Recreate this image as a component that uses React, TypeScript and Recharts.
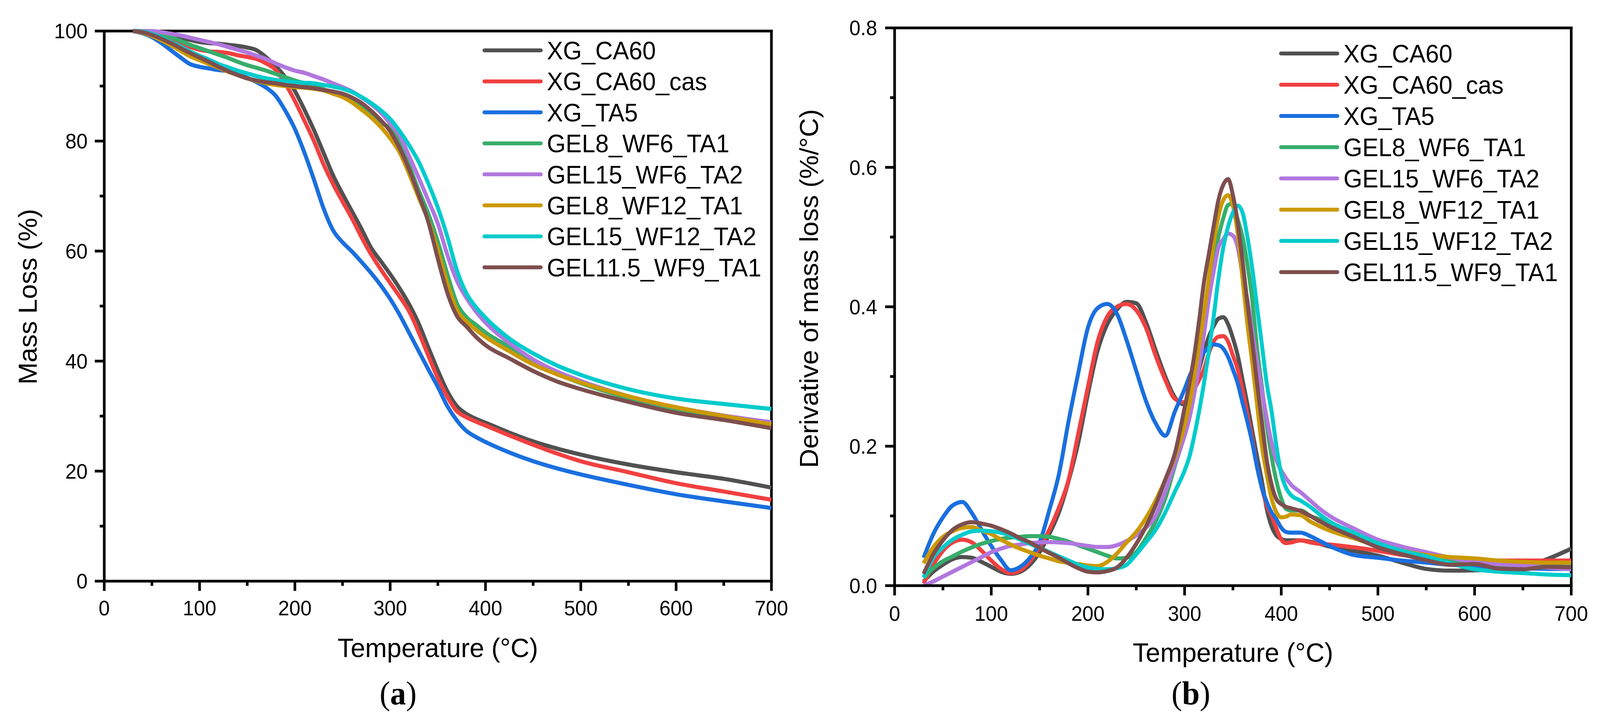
import React from 'react'
import { LineChart, Line, XAxis, YAxis, Legend, ReferenceLine } from 'recharts'

const seriesNames = [
  'XG_CA60',
  'XG_CA60_cas',
  'XG_TA5',
  'GEL8_WF6_TA1',
  'GEL15_WF6_TA2',
  'GEL8_WF12_TA1',
  'GEL15_WF12_TA2',
  'GEL11.5_WF9_TA1',
]
const seriesColors = ['#515151', '#F14040', '#1A6FDF', '#37AD6B', '#B177DE', '#CC9900', '#00CBCC', '#7D4E4E']

// (a) mass loss, %
const tgaTemps = [
  30, 40, 50, 60, 70, 80, 90, 100, 110, 120, 130, 140, 150, 160, 170, 180, 190, 200, 210, 220, 230, 240, 250,
  260, 270, 280, 290, 300, 310, 320, 330, 340, 350, 360, 370, 380, 390, 400, 425, 450, 475, 500, 550, 600, 650, 700,
]
const tgaXgCa60 = [
  100, 99.9, 99.7, 99.4, 99.1, 98.8, 98.4, 98.0, 97.8, 97.7, 97.5, 97.3, 97.0, 96.5, 95.2, 93.6, 91.6, 89.1, 85.7,
  82.0, 77.9, 73.8, 70.4, 67.2, 64.0, 60.6, 58.2, 55.8, 53.2, 50.3, 46.8, 42.5, 38.3, 34.5, 31.8, 30.4, 29.5, 28.8,
  27.0, 25.4, 24.1, 23.0, 21.2, 19.8, 18.6, 17.0,
]
const tgaXgCa60Cas = [
  100, 99.8, 99.4, 99.0, 98.4, 97.8, 97.1, 96.6, 96.3, 96.2, 96.0, 95.6, 95.3, 94.9, 94.1, 92.9, 90.4, 87.3, 83.7,
  80.0, 75.8, 72.2, 69.0, 65.9, 62.5, 59.4, 56.7, 54.2, 51.7, 49.0, 45.2, 41.0, 36.9, 33.5, 30.9, 29.8, 29.0, 28.3,
  26.5, 24.8, 23.2, 21.8, 19.8, 17.8, 16.3, 14.8,
]
const tgaXgTa5 = [
  100, 99.6, 98.9, 97.8, 96.5, 95.2, 94.0, 93.5, 93.2, 92.9, 92.7, 92.2, 91.5, 90.7, 89.7, 88.2, 85.5, 82.2, 77.9,
  73.0, 67.8, 63.8, 61.6, 59.9, 58.0, 56.0, 53.8, 51.3, 48.4, 45.1, 41.8, 38.5, 35.3, 31.8, 29.2, 27.3, 26.2, 25.3,
  23.4, 21.8, 20.5, 19.4, 17.5, 15.8, 14.5, 13.3,
]
const tgaGel8Wf6 = [
  100, 99.95, 99.8, 99.5, 98.9, 98.2, 97.5, 96.9, 96.3, 95.7, 95.1, 94.4, 93.8, 93.3, 92.8, 92.2, 91.6, 91.0, 90.5,
  89.9, 89.4, 88.8, 88.2, 87.3, 86.2, 84.9, 83.3, 82.4, 79.9, 75.5, 71.0, 66.8, 61.7, 55.8, 50.5, 48.0, 46.6, 45.2,
  42.6, 39.8, 37.7, 36.0, 33.3, 31.3, 29.8, 28.5,
]
const tgaGel15Wf6 = [
  100, 100, 100, 99.8, 99.5, 99.2, 98.8, 98.4, 98.0, 97.6, 97.1, 96.6, 96.1, 95.5, 94.9, 94.1, 93.4, 92.8, 92.4,
  91.8, 91.2, 90.5, 89.8, 89.0, 87.9, 86.7, 85.2, 83.2, 81.0, 77.2, 73.3, 69.2, 65.0, 59.3, 54.6, 51.5, 49.0, 47.0,
  43.3, 40.3, 38.1, 36.4, 33.6, 31.6, 30.1, 28.9,
]
const tgaGel8Wf12 = [
  100, 99.7, 99.1, 98.3, 97.4, 96.4, 95.4, 94.7, 94.0, 93.3, 92.6, 92.0, 91.4, 90.9, 90.5, 90.2, 90.0, 89.8, 89.7,
  89.5, 89.2, 88.6, 88.0, 87.0, 85.7, 84.3, 82.6, 80.5, 77.9, 74.0, 69.7, 65.5, 60.1, 54.1, 49.3, 47.2, 45.7, 44.4,
  41.8, 39.4, 37.6, 36.1, 33.6, 31.6, 30.0, 28.5,
]
const tgaGel15Wf12 = [
  100, 99.9, 99.5, 98.8, 98.0, 97.2, 96.3, 95.5, 94.8, 94.0, 93.4, 92.8, 92.3, 91.8, 91.4, 91.1, 90.9, 90.7, 90.6,
  90.5, 90.2, 89.9, 89.5, 88.9, 88.0, 86.9, 85.6, 84.0, 81.8, 79.2, 76.2, 72.3, 67.9, 62.6, 56.5, 52.3, 49.8, 47.9,
  44.1, 41.4, 39.2, 37.5, 34.9, 33.2, 32.2, 31.3,
]
const tgaGel115Wf9 = [
  100, 99.8, 99.3, 98.6, 97.8, 96.9, 96.0, 95.2, 94.4, 93.5, 92.7, 92.0, 91.4, 91.0, 90.7, 90.5, 90.2, 90.0, 89.8,
  89.6, 89.3, 89.0, 88.6, 87.9, 86.9, 85.5, 83.8, 81.8, 78.7, 74.8, 70.2, 65.3, 58.6, 52.4, 48.2, 46.3, 44.4, 42.9,
  40.5, 38.2, 36.3, 34.9, 32.6, 30.6, 29.3, 27.8,
]

// (b) derivative of mass loss, %/°C
const dtgTemps = [
  30, 40, 50, 60, 70, 80, 90, 100, 110, 120, 130, 140, 150, 160, 170, 180, 190, 200, 210, 220, 230, 240, 250, 260,
  270, 280, 290, 300, 305, 310, 315, 320, 325, 330, 335, 340, 345, 350, 355, 360, 365, 370, 375, 380, 385, 390, 395,
  400, 405, 410, 420, 430, 440, 450, 475, 500, 525, 550, 575, 600, 625, 650, 675, 700,
]
const dtgXgCa60 = [
  0.006, 0.02, 0.03, 0.038, 0.041, 0.04, 0.034, 0.027, 0.02, 0.017, 0.02, 0.03, 0.048, 0.074, 0.105, 0.15, 0.205,
  0.275, 0.337, 0.375, 0.396, 0.407, 0.405, 0.378, 0.338, 0.3, 0.27, 0.26,
  0.268, 0.285, 0.31, 0.335, 0.357, 0.372, 0.383, 0.385, 0.375, 0.355, 0.33, 0.295, 0.26, 0.222, 0.185, 0.15, 0.11,
  0.085, 0.072, 0.067,
  0.065, 0.065, 0.065, 0.063, 0.06, 0.056, 0.05, 0.043, 0.033, 0.024, 0.0215, 0.022, 0.023, 0.027, 0.038, 0.053,
]
const dtgXgCa60Cas = [
  0.003, 0.03, 0.05, 0.062, 0.066, 0.062, 0.05, 0.036, 0.024, 0.018, 0.022, 0.035, 0.055, 0.08, 0.112, 0.152, 0.218,
  0.285, 0.35, 0.386, 0.4, 0.404, 0.395, 0.37, 0.33, 0.295, 0.268, 0.263,
  0.27, 0.282, 0.295, 0.31, 0.333, 0.35, 0.357, 0.358, 0.35, 0.33, 0.31, 0.28, 0.245, 0.21, 0.17, 0.14, 0.115, 0.1,
  0.082, 0.066,
  0.061, 0.062, 0.065, 0.062, 0.06, 0.059, 0.055, 0.05, 0.044, 0.039, 0.037, 0.036, 0.036, 0.036, 0.036, 0.036,
]
const dtgXgTa5 = [
  0.04, 0.074, 0.098, 0.115, 0.12, 0.104, 0.08, 0.057, 0.037, 0.022, 0.027, 0.04, 0.062, 0.108, 0.16, 0.236, 0.305,
  0.37, 0.398, 0.404, 0.39, 0.352, 0.308, 0.265, 0.233, 0.215, 0.25, 0.282,
  0.3, 0.315, 0.325, 0.335, 0.342, 0.346, 0.345, 0.34, 0.328, 0.31, 0.29, 0.262, 0.235, 0.205, 0.17, 0.14, 0.12,
  0.105, 0.095, 0.083,
  0.077, 0.076, 0.076, 0.071, 0.064, 0.057, 0.044, 0.04, 0.036, 0.033, 0.03, 0.028, 0.026, 0.025, 0.024, 0.024,
]
const dtgGel8Wf6 = [
  0.011, 0.025, 0.035, 0.042, 0.049, 0.055, 0.06, 0.064, 0.067, 0.069, 0.07, 0.071, 0.071, 0.07, 0.067, 0.063, 0.058,
  0.053, 0.048, 0.043, 0.039, 0.04, 0.048, 0.068, 0.092, 0.125, 0.172, 0.22,
  0.26, 0.3, 0.34, 0.385, 0.425, 0.465, 0.5, 0.527, 0.546, 0.548, 0.525, 0.5, 0.46, 0.41, 0.34, 0.285, 0.23, 0.185,
  0.15, 0.125,
  0.11, 0.108, 0.108, 0.1, 0.095, 0.09, 0.073, 0.059, 0.048, 0.04, 0.035, 0.032, 0.03, 0.029, 0.028, 0.027,
]
const dtgGel15Wf6 = [
  0, 0.006, 0.013, 0.02, 0.027, 0.034, 0.041, 0.048, 0.053, 0.057, 0.059, 0.061, 0.062, 0.0625, 0.062, 0.061, 0.059,
  0.057, 0.0555, 0.0555, 0.058, 0.064, 0.072, 0.083, 0.1, 0.135, 0.175, 0.215,
  0.24, 0.275, 0.315, 0.36, 0.41, 0.45, 0.485, 0.497, 0.505, 0.502, 0.485, 0.445, 0.41, 0.365, 0.32, 0.28, 0.24,
  0.205, 0.18, 0.165,
  0.154, 0.145, 0.134, 0.122, 0.11, 0.1, 0.082, 0.066, 0.056, 0.048, 0.04, 0.034, 0.031, 0.029, 0.026, 0.0235,
]
const dtgGel8Wf12 = [
  0.032, 0.055, 0.07, 0.078, 0.083, 0.084, 0.079, 0.074, 0.066, 0.059, 0.053, 0.048, 0.043, 0.039, 0.035, 0.033,
  0.031, 0.029, 0.028, 0.034, 0.046, 0.062, 0.077, 0.097, 0.122, 0.152, 0.185, 0.23,
  0.26, 0.3, 0.345, 0.39, 0.44, 0.49, 0.53, 0.553, 0.56, 0.545, 0.505, 0.44, 0.375, 0.32, 0.26, 0.2, 0.16, 0.125,
  0.105, 0.098,
  0.099, 0.102, 0.101, 0.092, 0.085, 0.079, 0.068, 0.057, 0.05, 0.044, 0.041, 0.039, 0.036, 0.034, 0.033, 0.033,
]
const dtgGel15Wf12 = [
  0.012, 0.04, 0.055, 0.066, 0.073, 0.078, 0.079, 0.078, 0.076, 0.072, 0.066, 0.06, 0.054, 0.048, 0.042, 0.036, 0.03,
  0.026, 0.024, 0.0235, 0.025, 0.03, 0.045, 0.062, 0.08, 0.105, 0.135, 0.165,
  0.185, 0.215, 0.25, 0.29, 0.335, 0.385, 0.44, 0.485, 0.515, 0.535, 0.545, 0.535, 0.5, 0.455, 0.4, 0.345, 0.29,
  0.25, 0.2, 0.16,
  0.14, 0.13, 0.122, 0.113, 0.102, 0.092, 0.076, 0.061, 0.05, 0.042, 0.032, 0.0235, 0.02, 0.018, 0.016, 0.015,
]
const dtgGel115Wf9 = [
  0.017, 0.045, 0.065, 0.08, 0.088, 0.091, 0.089, 0.086, 0.081, 0.075, 0.068, 0.062, 0.054, 0.047, 0.04, 0.032,
  0.025, 0.02, 0.019, 0.021, 0.026, 0.04, 0.06, 0.085, 0.115, 0.152, 0.19, 0.255,
  0.29, 0.33, 0.38, 0.435, 0.475, 0.515, 0.553, 0.575, 0.583, 0.56, 0.52, 0.465, 0.405, 0.35, 0.29, 0.235, 0.18,
  0.145, 0.124, 0.117,
  0.113, 0.111, 0.107, 0.1, 0.092, 0.085, 0.07, 0.055, 0.045, 0.0365, 0.03, 0.031, 0.0245, 0.0235, 0.027, 0.0263,
]

const xTicks = [0, 50, 100, 150, 200, 250, 300, 350, 400, 450, 500, 550, 600, 650, 700]
const tgaTicks = [0, 10, 20, 30, 40, 50, 60, 70, 80, 90, 100]
const dtgTicks = [0, 0.1, 0.2, 0.3, 0.4, 0.5, 0.6, 0.7, 0.8]

const FONT = '"Liberation Sans", Arial, Helvetica, sans-serif'
const SERIF = '"Liberation Serif", "Times New Roman", serif'
const AXIS_W = 7
const PAGE_W = 4228
const PAGE_H = 1839

function buildRows(temps: number[], cols: number[][]) {
  return temps.map((t, i) => {
    const row: Record<string, number> = { t }
    cols.forEach((c, k) => {
      row['s' + k] = c[i]
    })
    return row
  })
}

const tgaRows = buildRows(tgaTemps, [
  tgaXgCa60, tgaXgCa60Cas, tgaXgTa5, tgaGel8Wf6, tgaGel15Wf6, tgaGel8Wf12, tgaGel15Wf12, tgaGel115Wf9,
])
const dtgRows = buildRows(dtgTemps, [
  dtgXgCa60, dtgXgCa60Cas, dtgXgTa5, dtgGel8Wf6, dtgGel15Wf6, dtgGel8Wf12, dtgGel15Wf12, dtgGel115Wf9,
])

function renderXTick(p: any, labelDy: number) {
  const { x, y, payload } = p
  const major = payload.value % 100 === 0
  return (
    <g>
      <line x1={x} x2={x} y1={y} y2={y + (major ? 25 : 12)} stroke="#000" strokeWidth={AXIS_W} />
      {major && (
        <text x={x} y={y + labelDy} textAnchor="middle" fontSize={53} fontFamily={FONT} fill="#000">
          {payload.value}
        </text>
      )}
    </g>
  )
}

function renderYTick(p: any, isMajor: (v: number) => boolean, fmt: (v: number) => string, labelDx: number) {
  const { x, y, payload } = p
  const major = isMajor(payload.value)
  return (
    <g>
      <line x1={x} x2={x - (major ? 25 : 12)} y1={y} y2={y} stroke="#000" strokeWidth={AXIS_W} />
      {major && (
        <text x={x - labelDx} y={y + 19} textAnchor="end" fontSize={53} fontFamily={FONT} fill="#000">
          {fmt(payload.value)}
        </text>
      )}
    </g>
  )
}

function legendContent(rowGap: number) {
  return () => (
    <svg width={840} height={720}>
      {seriesNames.map((name, i) => {
        const y = 50 + i * rowGap
        return (
          <g key={name}>
            <line x1={20} x2={169} y1={y} y2={y} stroke={seriesColors[i]} strokeWidth={10} strokeLinecap="round" />
            <text x={185} y={y + 23} fontSize={64} fontFamily={FONT} fill="#000">
              {name}
            </text>
          </g>
        )
      })}
    </svg>
  )
}

interface PanelProps {
  rows: Record<string, number>[]
  yMax: number
  yTicks: number[]
  isMajor: (v: number) => boolean
  fmt: (v: number) => string
  margin: { top: number; right: number; bottom: number; left: number }
  xLabelDy: number
  yLabelDx: number
  legendPos: { left: number; top: number }
  rowGap: number
}

function Panel(props: PanelProps) {
  const { rows, yMax, yTicks, isMajor, fmt, margin, xLabelDy, yLabelDx, legendPos, rowGap } = props
  return (
    <LineChart width={2114} height={1839} data={rows} margin={margin}>
      <XAxis
        type="number"
        dataKey="t"
        domain={[0, 700]}
        ticks={xTicks}
        interval={0}
        height={200}
        tickSize={0}
        tickMargin={0}
        tickLine={false}
        axisLine={{ stroke: '#000', strokeWidth: AXIS_W, strokeLinecap: 'square' }}
        tick={(p: any) => renderXTick(p, xLabelDy)}
      />
      <YAxis
        type="number"
        domain={[0, yMax]}
        ticks={yTicks}
        interval={0}
        width={200}
        tickSize={0}
        tickMargin={0}
        tickLine={false}
        axisLine={{ stroke: '#000', strokeWidth: AXIS_W, strokeLinecap: 'square' }}
        tick={(p: any) => renderYTick(p, isMajor, fmt, yLabelDx)}
      />
      <ReferenceLine y={yMax} stroke="#000" strokeWidth={AXIS_W} strokeLinecap="square" />
      <ReferenceLine x={700} stroke="#000" strokeWidth={AXIS_W} strokeLinecap="square" />
      {seriesNames.map((name, i) => (
        <Line
          key={name}
          type="monotone"
          dataKey={'s' + i}
          name={name}
          stroke={seriesColors[i]}
          strokeWidth={10.5}
          strokeLinejoin="round"
          dot={false}
          isAnimationActive={false}
        />
      ))}
      <Legend
        layout="horizontal"
        verticalAlign="middle"
        align="center"
        wrapperStyle={{ left: legendPos.left, top: legendPos.top, width: 840, height: 720 }}
        content={legendContent(rowGap)}
      />
    </LineChart>
  )
}

function viewportScaleX() {
  if (typeof window === 'undefined') return 1
  const w = Math.min(window.innerWidth || PAGE_W, document.documentElement.clientWidth || PAGE_W)
  return w > 0 && w < PAGE_W ? w / PAGE_W : 1
}

export default function App() {
  const sx = viewportScaleX()
  return (
    <div
      style={{
        position: 'absolute',
        left: 0,
        top: 0,
        width: Math.floor(PAGE_W * sx),
        height: PAGE_H,
        overflow: 'hidden',
        background: '#fff',
      }}
    >
      <div
        style={{
          position: 'absolute',
          left: 0,
          top: 0,
          width: PAGE_W,
          height: PAGE_H,
          transform: `scale(${sx}, 1)`,
          transformOrigin: '0 0',
        }}
      >
        <div style={{ position: 'absolute', left: 0, top: 0 }}>
          <Panel
            rows={tgaRows}
            yMax={100}
            yTicks={tgaTicks}
            isMajor={(v) => v % 20 === 0}
            fmt={(v) => String(v)}
            margin={{ top: 79.5, right: 75.5, bottom: 150.5, left: 75.5 }}
            xLabelDy={88}
            yLabelDx={44}
            legendPos={{ left: 1260, top: 79 }}
            rowGap={79.4}
          />
        </div>
        <div style={{ position: 'absolute', left: 2114, top: 0 }}>
          <Panel
            rows={dtgRows}
            yMax={0.8}
            yTicks={dtgTicks}
            isMajor={(v) => Math.round(v * 10) % 2 === 0}
            fmt={(v) => v.toFixed(1)}
            margin={{ top: 71.5, right: 76, bottom: 139, left: 50 }}
            xLabelDy={90}
            yLabelDx={46}
            legendPos={{ left: 1251, top: 87 }}
            rowGap={80}
          />
        </div>
        <svg width={PAGE_W} height={PAGE_H} style={{ position: 'absolute', left: 0, top: 0, pointerEvents: 'none' }}>
          <text x={1157} y={1683} textAnchor="middle" fontSize={69} fontFamily={FONT} fill="#000">
            Temperature (°C)
          </text>
          <text
            x={97}
            y={760}
            textAnchor="middle"
            fontSize={68}
            fontFamily={FONT}
            fill="#000"
            transform="rotate(-90 97 760)"
          >
            Mass Loss (%)
          </text>
          <text x={3258} y={1695} textAnchor="middle" fontSize={69} fontFamily={FONT} fill="#000">
            Temperature (°C)
          </text>
          <text
            x={2161}
            y={739}
            textAnchor="middle"
            fontSize={68}
            fontFamily={FONT}
            fill="#000"
            transform="rotate(-90 2161 739)"
          >
            Derivative of mass loss (%/°C)
          </text>
          <text x={1052} y={1804} textAnchor="middle" fontSize={84} fontFamily={SERIF} fill="#000">
            (<tspan fontWeight="bold">a</tspan>)
          </text>
          <text x={3147} y={1804} textAnchor="middle" fontSize={84} fontFamily={SERIF} fill="#000">
            (<tspan fontWeight="bold">b</tspan>)
          </text>
        </svg>
      </div>
    </div>
  )
}
